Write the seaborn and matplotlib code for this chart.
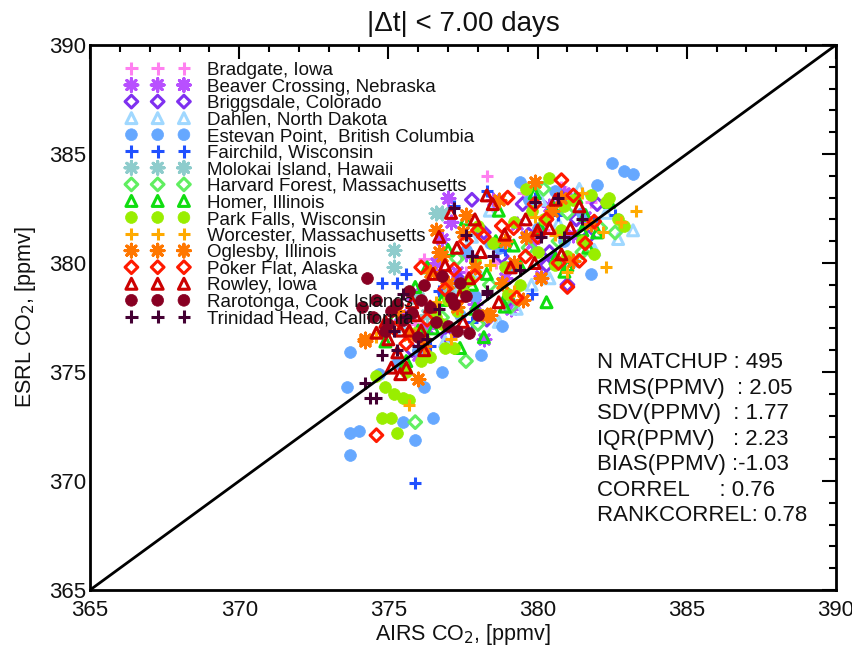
"""AIRS vs ESRL CO2 matchups, |dt| < 7 days, coloured by site."""

import matplotlib
matplotlib.use("Agg")
import matplotlib.pyplot as plt
from matplotlib.ticker import MultipleLocator
import seaborn as sns


# AIRS (x) and ESRL (y) CO2 in ppmv per site.
bradgate_x = [378.3, 377.0, 376.2, 380.2, 381.8, 378.6, 379.5, 377.6, 376.6, 380.8, 375.9, 379.0]
bradgate_y = [384.0, 382.8, 380.2, 381.5, 382.8, 380.0, 383.2, 379.6, 378.0, 383.5, 377.2, 381.0]

beaver_x = [377.1, 378.2, 376.8, 377.6, 379.3, 380.4, 381.2, 375.8, 376.3, 378.9, 379.8,
            377.9, 376.0, 380.9, 378.5, 375.4, 377.3, 381.6, 379.1, 376.6, 377.0, 380.1, 378.7]
beaver_y = [381.9, 376.5, 381.1, 380.4, 381.8, 382.6, 381.3, 378.6, 377.0, 379.3, 380.9,
            378.1, 375.8, 383.2, 382.9, 377.6, 379.6, 382.1, 377.9, 380.0, 383.0, 379.4, 380.8]

briggsdale_x = [379.5, 380.4, 380.3, 378.2, 377.4, 379.0, 381.3, 376.5, 378.8, 380.8,
                382.0, 377.0, 379.7, 375.8, 381.7, 378.3, 376.9, 377.8, 381.0]
briggsdale_y = [382.7, 380.5, 379.9, 381.4, 379.2, 378.3, 382.0, 377.8, 380.3, 383.0,
                382.7, 376.6, 381.3, 376.0, 381.2, 377.4, 378.6, 382.9, 379.0]

dahlen_x = [383.2, 379.3, 378.7, 380.1, 381.4, 377.8, 376.4, 382.3, 379.8, 378.0,
            380.7, 375.5, 381.9, 377.1, 382.7, 376.9, 380.4, 378.4, 381.1]
dahlen_y = [381.5, 377.9, 377.3, 382.9, 383.4, 381.2, 377.7, 382.3, 379.0, 379.6,
            381.8, 376.9, 380.6, 378.9, 381.1, 376.4, 379.3, 382.4, 380.1]

estevan_x = [373.7, 373.6, 373.7, 374.0, 373.7, 375.5, 375.9, 376.5, 376.2, 378.1, 382.5,
             382.9, 383.2, 379.4, 378.7, 380.6, 381.5, 377.4, 376.0, 380.0, 379.0, 377.9,
             381.2, 375.3, 378.4, 382.0, 376.8, 380.9, 374.7, 378.8, 379.7, 377.6, 381.8]
estevan_y = [375.9, 374.3, 372.2, 372.3, 371.2, 372.7, 371.9, 372.9, 374.3, 375.8, 384.6,
             384.2, 384.1, 383.7, 380.7, 383.3, 382.3, 377.6, 376.0, 381.6, 379.8, 378.5,
             380.1, 375.4, 380.9, 383.6, 375.0, 381.0, 374.9, 377.1, 382.9, 380.6, 379.5]

fairchild_x = [378.3, 375.6, 374.8, 375.3, 379.8, 375.9, 380.7, 377.2,
               381.9, 378.9, 376.7, 379.9, 382.6, 377.8, 376.4]
fairchild_y = [383.3, 379.5, 379.1, 379.1, 378.6, 369.9, 382.2, 382.6,
               381.9, 380.6, 378.7, 383.0, 382.2, 377.3, 376.2]

molokai_x = [376.6, 376.8, 375.2, 375.2, 377.0, 376.3, 377.5, 376.0]
molokai_y = [382.3, 382.3, 380.6, 379.8, 378.9, 377.6, 381.4, 378.4]

harvard_x = [377.6, 375.9, 382.6, 379.7, 381.0, 378.4, 376.8, 380.2,
             382.1, 377.3, 379.1, 381.5, 376.1, 380.7, 378.0]
harvard_y = [375.5, 372.7, 381.4, 380.7, 382.3, 379.0, 377.5, 383.4,
             381.6, 380.2, 378.0, 380.5, 376.8, 381.0, 377.2]

homer_x = [378.3, 380.1, 381.5, 377.4, 375.2, 379.0, 381.6, 376.3, 378.2, 380.5, 377.6,
           382.0, 379.4, 376.8, 375.6, 378.9, 381.0, 381.7, 380.9, 377.0, 379.9, 376.0,
           378.6, 382.4, 375.9, 380.3, 377.9, 374.9, 379.2, 380.6, 377.8, 378.7, 381.3, 376.5]
homer_y = [379.5, 381.6, 381.5, 376.1, 377.5, 378.6, 382.2, 379.8, 376.6, 382.6, 382.0,
           381.4, 379.9, 378.3, 375.5, 378.0, 379.9, 380.7, 379.6, 380.6, 383.2, 376.9,
           381.0, 382.8, 378.9, 378.2, 377.9, 376.4, 380.8, 380.2, 379.0, 382.4, 383.0, 377.0]

parkfalls_x = [374.8, 375.1, 375.3, 374.9, 375.2, 375.5, 375.7, 376.1, 376.4, 376.9, 377.2,
               377.0, 382.4, 382.3, 382.9, 380.4, 379.6, 381.2, 380.8, 378.5, 379.2, 381.8,
               377.7, 378.9, 380.0, 376.6, 375.9, 381.5, 379.8, 377.5, 380.6, 378.1, 376.2,
               382.7, 381.0, 379.0, 377.9, 375.6, 374.6, 380.2, 378.0, 379.4, 380.9, 377.3,
               381.9, 376.8]
parkfalls_y = [372.9, 372.9, 372.2, 374.3, 374.0, 373.8, 373.7, 375.5, 375.7, 376.1, 376.1,
               378.3, 383.0, 382.8, 381.7, 383.9, 383.4, 382.9, 381.5, 380.9, 381.9, 383.1,
               379.2, 379.8, 380.5, 377.5, 376.8, 381.0, 382.4, 378.7, 379.9, 377.6, 376.5,
               382.0, 380.3, 378.6, 380.1, 375.0, 374.8, 382.0, 381.7, 379.0, 382.6, 377.8,
               380.4, 377.2]

worcester_x = [383.3, 382.3, 382.2, 381.5, 375.7, 376.6, 379.2,
               380.6, 381.0, 378.4, 377.1, 379.9, 374.6, 382.8]
worcester_y = [382.4, 379.8, 381.4, 383.2, 373.5, 378.2, 378.7,
               381.3, 379.6, 379.9, 376.5, 382.1, 376.6, 381.9]

oglesby_x = [379.9, 378.7, 376.8, 378.8, 378.4, 374.2, 377.0, 378.3, 376.0, 374.2, 376.6,
             376.7, 381.2, 377.5, 379.6, 380.5, 375.3, 377.9, 375.7, 380.1, 376.2, 379.2,
             381.8, 377.3, 375.0, 378.9, 380.8, 377.6, 379.5, 376.4]
oglesby_y = [383.7, 382.9, 380.3, 379.1, 377.6, 376.5, 379.1, 377.6, 374.7, 376.4, 381.5,
             380.5, 380.1, 381.4, 381.2, 382.4, 377.8, 379.8, 376.7, 379.3, 376.2, 380.0,
             381.8, 378.0, 377.0, 381.0, 383.0, 382.2, 378.3, 379.6]

pokerflat_x = [380.8, 381.2, 381.9, 379.2, 378.8, 378.2, 379.6, 380.7, 381.4, 374.6, 375.6, 377.6,
               379.9, 378.0, 380.3, 376.3, 377.2, 381.0, 375.2, 379.3, 380.0, 376.9, 377.9,
               379.0, 381.6, 376.1]
pokerflat_y = [383.8, 383.1, 381.9, 381.6, 381.7, 381.2, 380.3, 380.0, 380.1, 372.1, 376.3, 381.0,
               382.7, 381.5, 382.0, 377.4, 379.7, 378.9, 377.0, 378.4, 381.2, 378.8, 379.4,
               383.0, 380.9, 379.8]

rowley_x = [374.6, 375.4, 375.7, 376.1, 375.0, 375.1, 375.6, 375.4, 377.5, 378.7, 378.5, 377.9,
            379.6, 381.4, 381.1, 380.4, 376.9, 377.3, 377.7, 379.9, 375.9, 376.4, 374.9, 380.0,
            378.1, 376.2, 375.3, 380.8, 377.1, 378.9, 376.7, 375.8, 379.1, 377.4, 380.6, 378.3,
            376.5]
rowley_y = [376.8, 376.9, 376.9, 376.9, 376.5, 375.2, 375.2, 374.9, 377.3, 378.2, 382.7, 382.0,
            382.0, 382.6, 381.6, 381.6, 379.9, 380.7, 379.3, 380.0, 377.6, 378.0, 377.3, 381.5,
            380.5, 376.0, 375.9, 380.4, 382.3, 381.3, 381.2, 378.2, 379.8, 378.5, 382.9, 383.1,
            379.5]

rarotonga_x = [374.3, 375.7, 376.2, 374.1, 374.6, 376.1, 377.4, 377.2, 377.6, 377.0,
               377.3, 377.7, 375.8, 375.3, 377.1, 376.6, 374.9, 375.5, 376.4, 375.1,
               376.8, 374.5, 378.0, 376.0, 375.0]
rarotonga_y = [379.3, 378.7, 379.0, 378.0, 378.3, 378.3, 379.1, 378.1, 378.5, 377.1,
               376.9, 376.8, 377.7, 378.1, 378.4, 377.3, 376.9, 377.4, 378.0, 377.8,
               379.4, 377.5, 377.6, 376.6, 377.2]

trinidad_x = [374.2, 374.4, 374.6, 377.2, 377.6, 377.8, 378.5, 379.9, 380.7, 380.1,
              380.9, 378.3, 375.2, 375.3, 376.3, 377.8, 378.3, 375.6, 376.0, 379.4,
              381.5, 376.7, 374.8, 375.5]
trinidad_y = [374.5, 373.8, 373.8, 382.5, 381.3, 380.3, 380.3, 382.8, 383.0, 381.2,
              381.2, 378.6, 376.9, 376.0, 376.5, 380.3, 378.7, 377.5, 376.2, 379.7,
              382.0, 377.9, 375.8, 378.6]

stats_lines = [
    "N MATCHUP : 495",
    "RMS(PPMV)  : 2.05",
    "SDV(PPMV)  : 1.77",
    "IQR(PPMV)   : 2.23",
    "BIAS(PPMV) :-1.03",
    "CORREL     : 0.76",
    "RANKCORREL: 0.78",
]

ASTER = (8, 2, 0)  # IDL-style asterisk

# name, x, y, marker, colour
SITES = [
    ("Bradgate, Iowa", bradgate_x, bradgate_y, "+", "#ff80f0"),
    ("Beaver Crossing, Nebraska", beaver_x, beaver_y, ASTER, "#b850ff"),
    ("Briggsdale, Colorado", briggsdale_x, briggsdale_y, "D", "#7f30f0"),
    ("Dahlen, North Dakota", dahlen_x, dahlen_y, "^", "#a0d8ff"),
    ("Estevan Point,  British Columbia", estevan_x, estevan_y, "o", "#66a8ff"),
    ("Fairchild, Wisconsin", fairchild_x, fairchild_y, "+", "#2050ff"),
    ("Molokai Island, Hawaii", molokai_x, molokai_y, ASTER, "#8ecccc"),
    ("Harvard Forest, Massachusetts", harvard_x, harvard_y, "D", "#60ee60"),
    ("Homer, Illinois", homer_x, homer_y, "^", "#10dd10"),
    ("Park Falls, Wisconsin", parkfalls_x, parkfalls_y, "o", "#99ee00"),
    ("Worcester, Massachusetts", worcester_x, worcester_y, "+", "#ffaa00"),
    ("Oglesby, Illinois", oglesby_x, oglesby_y, ASTER, "#ff7700"),
    ("Poker Flat, Alaska", pokerflat_x, pokerflat_y, "D", "#ff1a00"),
    ("Rowley, Iowa", rowley_x, rowley_y, "^", "#cc0000"),
    ("Rarotonga, Cook Islands", rarotonga_x, rarotonga_y, "o", "#880022"),
    ("Trinidad Head, California", trinidad_x, trinidad_y, "+", "#440033"),
]

sns.set_style("white")
plt.rcParams["font.family"] = ["Liberation Sans", "DejaVu Sans"]
for key in ("text.color", "axes.labelcolor", "xtick.color", "ytick.color"):
    plt.rcParams[key] = "#111111"

fig = plt.figure(figsize=(8.53, 6.51), dpi=100)
ax = fig.add_axes([0.1055, 0.0937, 0.8745, 0.8372])

for name, xs, ys, marker, color in SITES:
    kw = dict(x=xs, y=ys, marker=marker, color=color, ax=ax, label=name)
    if marker == "D":
        sns.scatterplot(s=42, facecolor="none", edgecolor=color, linewidth=2.2, **kw)
    elif marker == "^":
        sns.scatterplot(s=62, facecolor="none", edgecolor=color, linewidth=2.2, **kw)
    elif marker == "o":
        sns.scatterplot(s=72, edgecolor=color, linewidth=0.5, **kw)
    else:
        sns.scatterplot(s=85, linewidth=2.2, **kw)

# 1:1 line
ax.axline((365, 365), slope=1, color="black", linewidth=2, zorder=3)

ax.set_xlim(365, 390)
ax.set_ylim(365, 390)
ax.xaxis.set_major_locator(MultipleLocator(5))
ax.xaxis.set_minor_locator(MultipleLocator(1))
ax.yaxis.set_major_locator(MultipleLocator(5))
ax.yaxis.set_minor_locator(MultipleLocator(1))
ax.tick_params(which="both", direction="in", top=True, right=True, width=1.5, color="black")
ax.tick_params(which="major", length=10, labelsize=16)
ax.tick_params(axis="x", which="major", pad=7)
ax.tick_params(axis="y", which="major", pad=3)
ax.tick_params(which="minor", length=5)
for sp in ax.spines.values():
    sp.set_linewidth(2)
    sp.set_color("black")

ax.set_xlabel("AIRS CO$_2$, [ppmv]", fontsize=15.5, labelpad=1)
ax.set_ylabel("ESRL CO$_2$, [ppmv]", fontsize=15.5, labelpad=8)
ax.set_title("|Δt| < 7.00 days", fontsize=20, pad=10)

ax.legend(loc="upper left", bbox_to_anchor=(0.048, 0.969), scatterpoints=3,
          scatteryoffsets=[0.5], frameon=False, fontsize=13.5, handlelength=3.4,
          handletextpad=0.95, labelspacing=-0.03, borderpad=0, borderaxespad=0)

for i, line in enumerate(stats_lines):
    ypx = 363 + 25.5 * i
    ax.text(0.6796, 1 - (ypx - 45) / 545, line, transform=ax.transAxes,
            fontsize=16, va="center", ha="left")

fig.savefig("out.png", dpi=100)
